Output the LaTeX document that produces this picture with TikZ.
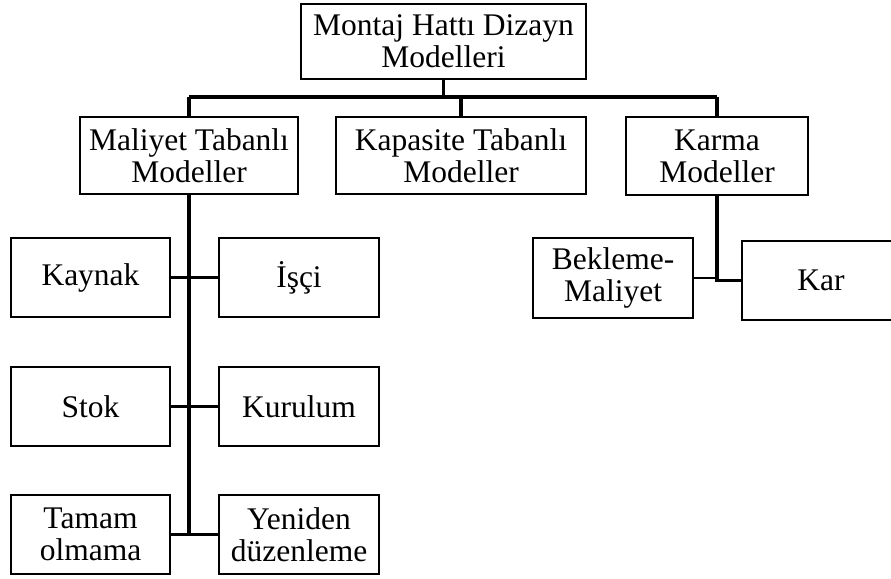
\documentclass[tikz,border=0pt]{standalone}
\usepackage{fontspec}
\setmainfont{Liberation Serif}
\begin{document}
\begin{tikzpicture}[x=1pt,y=-1pt,
  box/.style={draw=black, line width=2.8pt, inner sep=0pt, align=center, font=\fontsize{31.5}{32}\selectfont},
  conn/.style={draw=black, line width=3.2pt},
  branch/.style={draw=black, line width=2.6pt}]
\useasboundingbox (0,0) rectangle (891,578);
\clip (0,0) rectangle (891,578);
\node[box, minimum width=285pt, minimum height=75pt] (top) at (443.5,41.5) {Montaj Hattı Dizayn\\Modelleri};
\node[box, minimum width=218pt, minimum height=77pt] (mal) at (189,155.5) {Maliyet Tabanlı\\Modeller};
\node[box, minimum width=250pt, minimum height=77pt] (kap) at (461,155.5) {Kapasite Tabanlı\\Modeller};
\node[box, minimum width=182pt, minimum height=78pt] (kar) at (717,156) {Karma\\Modeller};
\node[box, minimum width=159pt, minimum height=79pt] (kay) at (90.5,277.5) {Kaynak};
\node[box, minimum width=160pt, minimum height=79pt] (isc) at (299,277.5) {İşçi};
\node[box, minimum width=159pt, minimum height=79pt] (sto) at (90.5,406.5) {Stok};
\node[box, minimum width=160pt, minimum height=79pt] (kur) at (299,406.5) {Kurulum};
\node[box, minimum width=159pt, minimum height=79pt] (tam) at (90.5,534.5) {Tamam\\olmama};
\node[box, minimum width=160pt, minimum height=79pt] (yen) at (299,534.5) {Yeniden\\düzenleme};
\node[box, minimum width=160pt, minimum height=80pt] (bek) at (613,278) {Bekleme-\\Maliyet};
\node[box, minimum width=158pt, minimum height=79pt] (kr) at (821,280.5) {Kar};
\coordinate (bus) at (443.5,97);
\coordinate (busL) at (mal.north |- bus);
\coordinate (busR) at (kar.north |- bus);
\coordinate (malEnd) at (mal.south |- tam.east);
\draw[conn] (top.south) -- (bus);
\draw[conn] (busL) -- (busR);
\draw[conn] (busL) -- (mal.north);
\draw[conn] (kap.north |- bus) -- (kap.north);
\draw[conn] (busR) -- (kar.north);
\draw[conn] (mal.south) -- (malEnd);
\draw[branch] (kay.east) -- (isc.west);
\draw[branch] (sto.east) -- (kur.west);
\draw[branch] (tam.east) -- (yen.west);
\draw[conn] (kar.south) |- (kr.west);
\draw[branch] (bek.east) -- (bek.east -| kar.south);
\end{tikzpicture}
\end{document}
